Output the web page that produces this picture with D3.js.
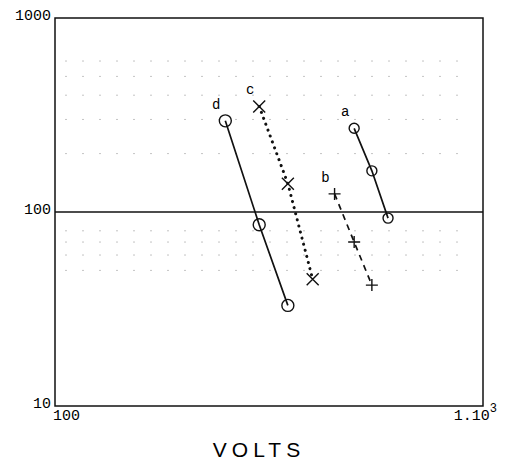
<!DOCTYPE html>
<html>
<head>
<meta charset="utf-8">
<script src="https://cdn.jsdelivr.net/npm/d3@7"></script>
<style>
  body { margin: 0; background: #fff; }
  svg { display: block; }
</style>
</head>
<body>
<div id="chart"></div>
<script>
// series (volts, response)
const seriesNames = ["a", "b", "c", "d"];
const voltsA = [500, 550, 600];
const valuesA = [270, 163, 93];
const voltsB = [450, 500, 550];
const valuesB = [124, 70, 42];
const voltsC = [300, 350, 400];
const valuesC = [350, 140, 45];
const voltsD = [250, 300, 350];
const valuesD = [295, 86, 33];

const yTicks = [10, 100, 1000];
const yTickLabels = ["10", "100", "1000"];
const gridRows = [50, 60, 70, 80, 200, 300, 400, 500, 600];
const refLevel = 100;

const W = 518, H = 468;
const margin = {top: 18, right: 35, bottom: 62, left: 55};

const svg = d3.select("#chart")
    .append("svg")
    .attr("width", W)
    .attr("height", H);

const x = d3.scaleLog()
    .domain([100, 1000])
    .range([margin.left, W - margin.right]);

const y = d3.scaleLog()
    .domain([10, 1000])
    .range([H - margin.bottom, margin.top]);

// faint remains of the minor grid
svg.append("g")
    .selectAll("line")
    .data(gridRows)
    .join("line")
    .attr("x1", x(100) + 10)
    .attr("x2", x(1000) - 10)
    .attr("y1", d => y(d))
    .attr("y2", d => y(d))
    .style("stroke", "#c4c4c4")
    .style("stroke-width", 1)
    .style("stroke-dasharray", "2,15");

// frame
svg.append("rect")
    .attr("x", x(100))
    .attr("y", y(1000))
    .attr("width", x(1000) - x(100))
    .attr("height", y(10) - y(1000))
    .style("fill", "none")
    .style("stroke", "#111")
    .style("stroke-width", 1.5);

// reference line at 100
svg.append("line")
    .attr("x1", x(100))
    .attr("x2", x(1000))
    .attr("y1", y(refLevel))
    .attr("y2", y(refLevel))
    .style("stroke", "#111")
    .style("stroke-width", 1.6);

// y tick labels
svg.append("g")
    .selectAll("text")
    .data(yTicks)
    .join("text")
    .attr("x", x(100) - 4)
    .attr("y", d => y(d) + 2)
    .attr("text-anchor", "end")
    .style("font-family", "'Liberation Mono', monospace")
    .style("font-size", "15px")
    .text((d, i) => yTickLabels[i]);

// x tick labels
svg.append("text")
    .attr("x", x(100) - 2)
    .attr("y", y(10) + 14)
    .style("font-family", "'Liberation Mono', monospace")
    .style("font-size", "15px")
    .text("100");

const xl = svg.append("text")
    .attr("x", x(1000) + 14)
    .attr("y", y(10) + 14)
    .attr("text-anchor", "end")
    .style("font-family", "'Liberation Mono', monospace")
    .style("font-size", "15px");
xl.append("tspan").text("1.10");
xl.append("tspan")
    .attr("dy", -8)
    .style("font-size", "12px")
    .text("3");

svg.append("text")
    .attr("x", 259)
    .attr("y", 457)
    .attr("text-anchor", "middle")
    .style("font-family", "'Liberation Sans', Arial, sans-serif")
    .style("font-size", "21px")
    .style("letter-spacing", "5px")
    .text("VOLTS");

// series
const series = [
    {name: seriesNames[0], v: voltsA, r: valuesA, dash: null, mark: "circle"},
    {name: seriesNames[1], v: voltsB, r: valuesB, dash: "6,5", mark: "plus"},
    {name: seriesNames[2], v: voltsC, r: valuesC, dash: "0.1,6.2", mark: "cross"},
    {name: seriesNames[3], v: voltsD, r: valuesD, dash: null, mark: "circle"}
];

const line = d3.line()
    .x(d => x(d[0]))
    .y(d => y(d[1]));

series.forEach(function (s) {
    const pts = s.v.map((v, i) => [v, s.r[i]]);
    const g = svg.append("g");

    g.append("path")
        .datum(pts)
        .attr("d", line)
        .style("fill", "none")
        .style("stroke", "#111")
        .style("stroke-width", s.mark === "cross" ? 3 : 1.7)
        .style("stroke-linecap", s.mark === "cross" ? "round" : "butt")
        .style("stroke-dasharray", s.dash);

    const m = g.selectAll(".m")
        .data(pts)
        .join("g")
        .attr("transform", d => `translate(${x(d[0])}, ${y(d[1])})`)
        .style("stroke", "#111")
        .style("fill", "none")
        .style("stroke-width", 1.4);

    if (s.mark === "circle") {
        m.append("circle").attr("r", s.name === "d" ? 6 : 5);
    } else if (s.mark === "plus") {
        m.append("path").attr("d", "M-6,0H6M0,-6V6");
    } else {
        m.append("path").attr("d", "M-6,-6L6,6M-6,6L6,-6");
    }

    g.append("text")
        .attr("x", x(pts[0][0]) - 9)
        .attr("y", y(pts[0][1]) - 12)
        .attr("text-anchor", "middle")
        .style("font-family", "'Liberation Mono', monospace")
        .style("font-size", "14px")
        .text(s.name);
});
</script>
</body>
</html>
